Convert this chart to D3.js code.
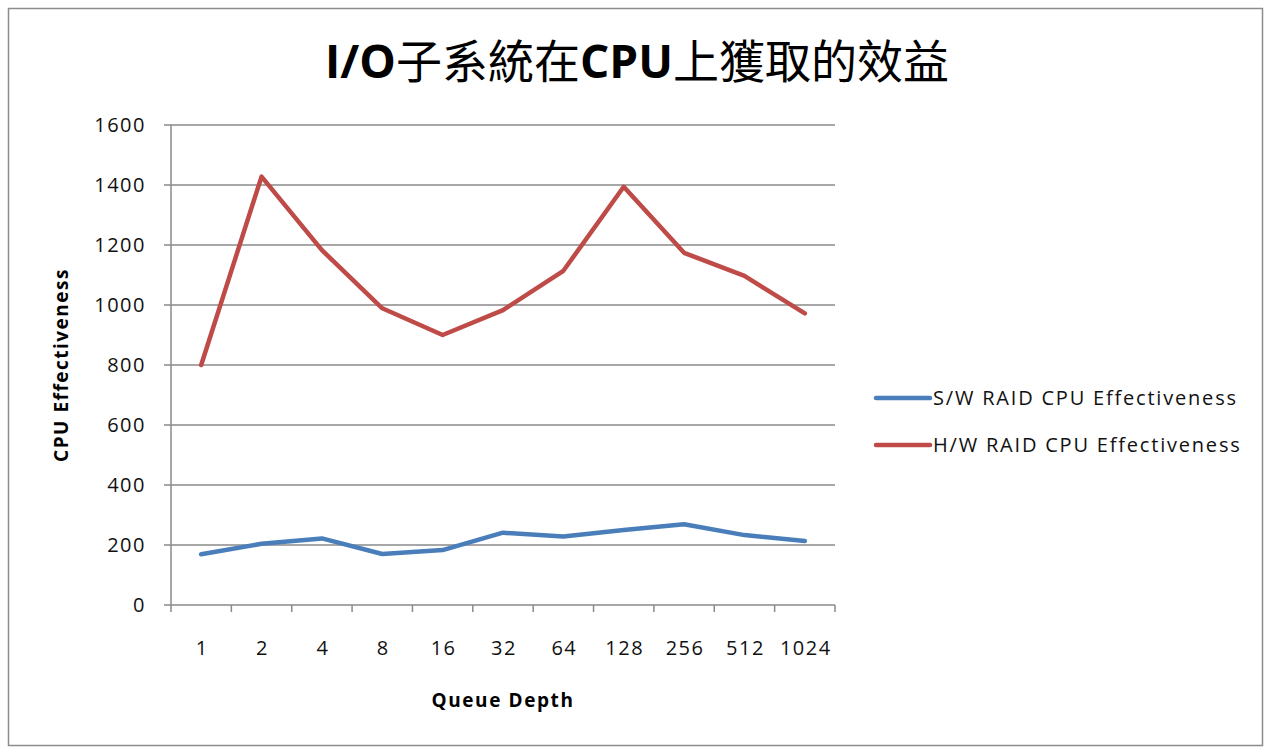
<!DOCTYPE html>
<html>
<head>
<meta charset="utf-8">
<script src="https://cdn.jsdelivr.net/npm/d3@7"></script>
<style>
  body { margin: 0; background: #fff; }
  text { font-family: "Open Sans", "Noto Sans CJK TC", sans-serif; }
</style>
</head>
<body>
<div id="chart"></div>
<script>
var categories = ["1", "2", "4", "8", "16", "32", "64", "128", "256", "512", "1024"];
var swRaid = [169, 204, 222, 170, 183, 241, 228, 250, 269, 233, 213];
var hwRaid = [800, 1428, 1183, 989, 900, 983, 1114, 1394, 1174, 1097, 972];
var yTicks = [0, 200, 400, 600, 800, 1000, 1200, 1400, 1600];
var seriesNames = ["S/W RAID CPU Effectiveness", "H/W RAID CPU Effectiveness"];
var colors = ["#4a7ebb", "#be4b48"];

var width = 1271, height = 753;
var plot = {left: 171, right: 835, top: 125, bottom: 605};

var svg = d3.select("#chart").append("svg")
	.attr("width", width)
	.attr("height", height);

// outer frame
svg.append("rect")
	.attr("x", 8.5).attr("y", 8.5)
	.attr("width", 1254).attr("height", 737)
	.attr("fill", "#fff")
	.attr("stroke", "#8c8c8c")
	.attr("stroke-width", 1.5);

var x = d3.scaleBand()
	.domain(categories)
	.range([plot.left, plot.right]);

var y = d3.scaleLinear()
	.domain([0, 1600])
	.range([plot.bottom, plot.top]);

// gridlines
svg.append("g")
	.selectAll("line")
	.data(yTicks)
	.enter().append("line")
	.attr("x1", plot.left - 7)
	.attr("x2", plot.right)
	.attr("y1", function (d) { return y(d); })
	.attr("y2", function (d) { return y(d); })
	.attr("stroke", "#8a8a8a")
	.attr("stroke-width", 1.5);

// y axis line
svg.append("line")
	.attr("x1", plot.left).attr("x2", plot.left)
	.attr("y1", plot.top).attr("y2", plot.bottom)
	.attr("stroke", "#8a8a8a")
	.attr("stroke-width", 1.5);

// x axis ticks at band boundaries
var boundaries = categories.map(function (c) { return x(c); }).concat([plot.right]);
svg.append("g")
	.selectAll("line")
	.data(boundaries)
	.enter().append("line")
	.attr("x1", function (d) { return d; })
	.attr("x2", function (d) { return d; })
	.attr("y1", plot.bottom)
	.attr("y2", plot.bottom + 7)
	.attr("stroke", "#8a8a8a")
	.attr("stroke-width", 1.5);

// y tick labels
svg.append("g")
	.selectAll("text")
	.data(yTicks)
	.enter().append("text")
	.attr("x", 146)
	.attr("y", function (d) { return y(d); })
	.attr("dy", "0.35em")
	.attr("text-anchor", "end")
	.style("font-size", "20px")
	.style("letter-spacing", "1.5px")
	.attr("fill", "#111")
	.text(function (d) { return d; });

// x tick labels
svg.append("g")
	.selectAll("text")
	.data(categories)
	.enter().append("text")
	.attr("x", function (d) { return x(d) + x.bandwidth() / 2 + 1; })
	.attr("y", 648)
	.attr("dy", "0.35em")
	.attr("text-anchor", "middle")
	.style("font-size", "20px")
	.style("letter-spacing", "1.5px")
	.attr("fill", "#111")
	.text(function (d) { return d; });

// lines
var line = d3.line()
	.x(function (d, i) { return x(categories[i]) + x.bandwidth() / 2; })
	.y(function (d) { return y(d); });

[swRaid, hwRaid].forEach(function (s, i) {
	svg.append("path")
		.datum(s)
		.attr("fill", "none")
		.attr("stroke", colors[i])
		.attr("stroke-width", 4.5)
		.attr("stroke-linejoin", "round")
		.attr("stroke-linecap", "round")
		.attr("d", line);
});

// title: latin parts bold, CJK parts regular
var titleParts = [["I/O", "bold"], ["子系統在", "normal"], ["CPU", "bold"], ["上獲取的效益", "normal"]];
svg.append("text")
	.attr("x", 637)
	.attr("y", 62)
	.attr("dy", "0.35em")
	.attr("text-anchor", "middle")
	.style("font-size", "46px")
	.attr("fill", "#000")
	.selectAll("tspan")
	.data(titleParts)
	.enter().append("tspan")
	.style("font-weight", function (d) { return d[1]; })
	.text(function (d) { return d[0]; });

// axis titles
svg.append("text")
	.attr("x", 503)
	.attr("y", 700)
	.attr("dy", "0.35em")
	.attr("text-anchor", "middle")
	.style("font-size", "19px")
	.style("font-weight", "bold")
	.style("letter-spacing", "1.6px")
	.text("Queue Depth");

svg.append("text")
	.attr("transform", "translate(61,365) rotate(-90)")
	.attr("dy", "0.35em")
	.attr("text-anchor", "middle")
	.style("font-size", "19px")
	.style("font-weight", "bold")
	.style("letter-spacing", "1.5px")
	.text("CPU Effectiveness");

// legend
var legend = svg.append("g")
	.selectAll("g")
	.data(seriesNames)
	.enter().append("g")
	.attr("transform", function (d, i) { return "translate(876," + (398 + i * 47) + ")"; });

legend.append("line")
	.attr("x1", 0).attr("x2", 54)
	.attr("stroke", function (d, i) { return colors[i]; })
	.attr("stroke-width", 4.5)
	.attr("stroke-linecap", "round");

legend.append("text")
	.attr("x", 57)
	.attr("dy", "0.35em")
	.style("font-size", "20px")
	.style("letter-spacing", "1.8px")
	.attr("fill", "#111")
	.text(function (d) { return d; });
</script>
</body>
</html>
